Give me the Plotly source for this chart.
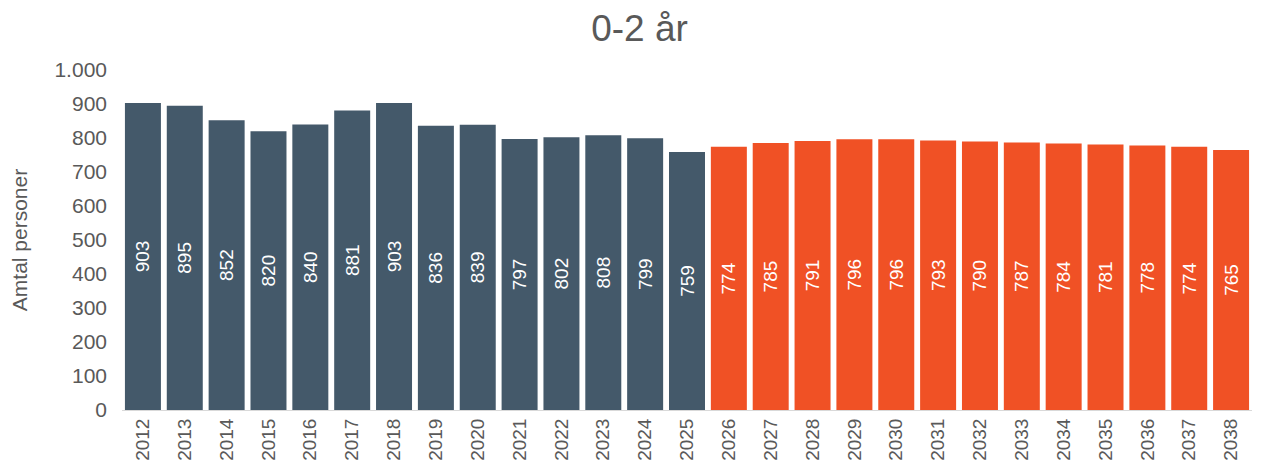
import plotly.graph_objects as go

# observed years and projection years
years_hist = [str(y) for y in range(2012, 2026)]
values_hist = [903, 895, 852, 820, 840, 881, 903, 836, 839, 797, 802, 808, 799, 759]
years_proj = [str(y) for y in range(2026, 2039)]
values_proj = [774, 785, 791, 796, 796, 793, 790, 787, 784, 781, 778, 774, 765]

dark = '#44596A'
orange = '#F05125'
grey = '#595959'
font = 'Liberation Sans, Arial, sans-serif'

# the page body has an 8px margin, so the figure is a bit smaller
W, H = 1263, 465

fig = go.Figure()

for xs, ys, col in [(years_hist, values_hist, dark), (years_proj, values_proj, orange)]:
    fig.add_trace(go.Bar(
        x=xs, y=ys, marker=dict(color=col, line=dict(width=0)),
        text=[str(v) for v in ys], textposition='inside', textangle=-90,
        insidetextanchor='middle', textfont=dict(color='white', size=19, family=font),
        showlegend=False
    ))

fig.update_layout(
    title=dict(text='0-2 år', x=0.5, xanchor='center', xref='container',
               yref='container', y=1 - 20 / H, yanchor='middle',
               font=dict(size=37, color=grey, family=font)),
    width=W, height=H,
    margin=dict(l=114, r=19, t=62, b=63),
    plot_bgcolor='white', paper_bgcolor='white',
    bargap=0.14,
    separators=',.',
    font=dict(family=font, color=grey),
    uniformtext=dict(minsize=19, mode='show'),
)
fig.update_xaxes(
    type='category', tickangle=-90, tickfont=dict(size=19, color=grey),
    showline=True, linecolor='#D9D9D9', linewidth=1, showgrid=False, ticks='',
    automargin=False
)
fig.update_yaxes(
    range=[0, 1000], dtick=100, tickformat=',d', separatethousands=True,
    showgrid=False, zeroline=False, showline=False, automargin=False,
    tickfont=dict(size=21, color=grey), ticklabelstandoff=14,
    title=dict(text='Amtal personer', font=dict(size=21, color=grey), standoff=22)
)

fig.write_html("out.html")
